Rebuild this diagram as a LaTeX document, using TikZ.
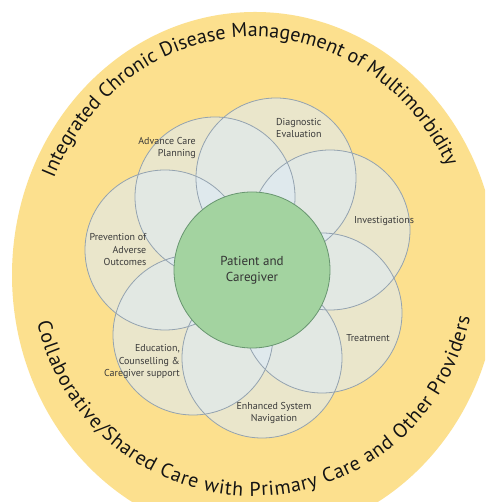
\documentclass[tikz,border=0pt]{standalone}
\usepackage{fontspec}
\setmainfont{PT Sans}
\usetikzlibrary{decorations.text}
\definecolor{bgyellow}{RGB}{252,224,142}
\definecolor{petalfill}{RGB}{222,234,244}
\definecolor{petalline}{RGB}{148,163,176}
\definecolor{greenfill}{RGB}{163,211,160}
\definecolor{greenline}{RGB}{104,150,112}
\definecolor{labeltext}{RGB}{58,58,58}
\definecolor{outertext}{RGB}{20,20,20}
\newcommand\outerfont{\fontsize{20}{24}\selectfont\color{outertext}}
\begin{document}
\begin{tikzpicture}[x=1pt,y=1pt,
  petalfillst/.style={fill=petalfill, fill opacity=0.6},
  petalline/.style={draw=petalline, line width=0.8pt},
  lbl/.style={font=\fontsize{10}{12.5}\selectfont, text=labeltext, inner sep=0pt},
  centrelbl/.style={font=\fontsize{13}{16}\selectfont, text=labeltext!90!black, inner sep=0pt, align=center}]
\useasboundingbox (0,0) rectangle (485,502);
\fill[white] (0,0) rectangle (485,502);
\begin{scope}
  \clip (0,0) rectangle (485,502);
  \fill[bgyellow] (255,227) ellipse [x radius=243pt, y radius=263pt];
\end{scope}
% petals
\foreach \px/\py in {276/324, 330/272, 322/189, 262/144, 193/167, 165/252, 215/305}
  \fill[petalfillst] (\px,\py) circle[radius=80pt];
\foreach \px/\py in {276/324, 330/272, 322/189, 262/144, 193/167, 165/252, 215/305}
  \draw[petalline] (\px,\py) circle[radius=80pt];
% centre
\filldraw[fill=greenfill, draw=greenline, line width=0.8pt] (252,232) circle[radius=78pt];
% labels
\node[lbl, align=left, anchor=west] (diag) at (276,374) {Diagnostic\\Evaluation};
\node[lbl, align=right, anchor=east] (acp) at (196,354) {Advance Care\\Planning};
\node[lbl, align=right, anchor=east] (prev) at (146.5,252) {Prevention of\\Adverse\\Outcomes};
\node[lbl, align=center] (inv) at (384,281) {Investigations};
\node[lbl, align=center] (treat) at (368,164) {Treatment};
\node[lbl, align=right, anchor=east] (edu) at (180,140) {Education,\\Counselling \&\\Caregiver support};
\node[lbl, align=center] (nav) at (274,89) {Enhanced System\\Navigation};
\node[centrelbl] (patient) at (252,232) {Patient and\\Caregiver};
% curved outer texts
\path[decorate, decoration={text along path, text align=fit to path,
  text={|\outerfont|Integrated Chronic Disease Management of Multimorbidity}}]
  (253,227) ++(156:218pt and 238pt) arc[start angle=156, end angle=27, x radius=218pt, y radius=238pt];
\path[decorate, decoration={text along path, text align=fit to path,
  text={|\outerfont|Collaborative/Shared Care with Primary Care and Other Providers}}]
  (253,227) ++(192.5:221pt) arc[start angle=192.5, end angle=349, radius=221pt];
\end{tikzpicture}
\end{document}
